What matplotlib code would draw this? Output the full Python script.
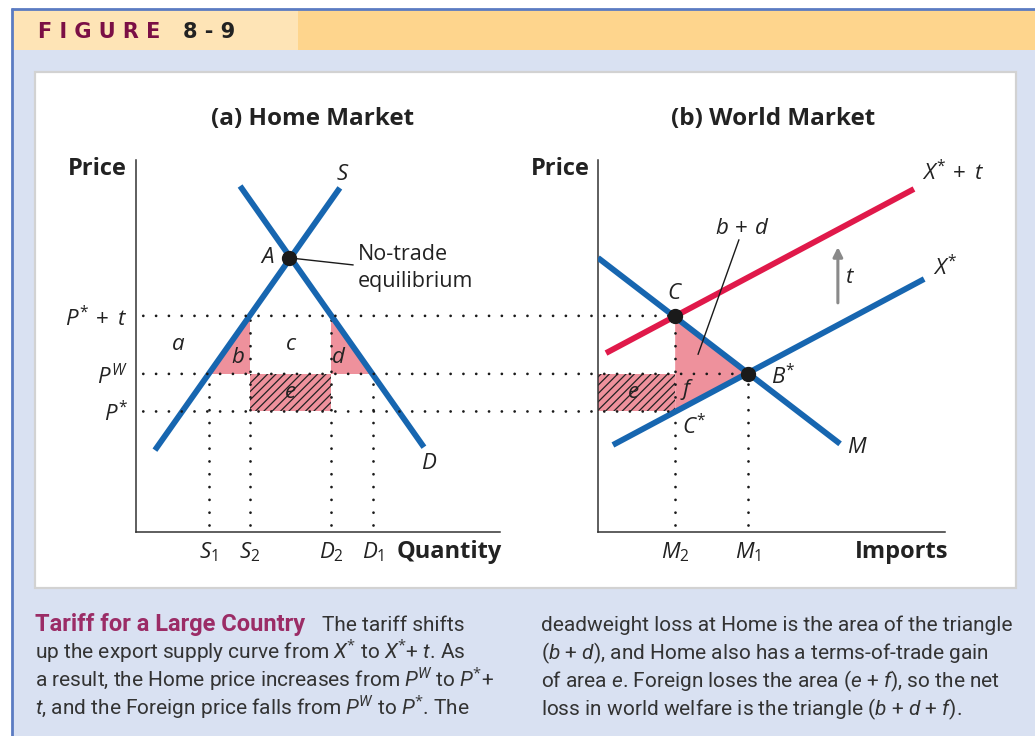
import matplotlib
matplotlib.use("Agg")
import matplotlib.pyplot as plt
from matplotlib import font_manager
from matplotlib.patches import Rectangle, Polygon, ConnectionPatch

# ---------------- data ----------------
# Panel (a) Home Market
home_prices = [3.24, 4.25, 5.81]                 # P*, P^W, P* + t
home_price_labels = [r"$P^{*}$", r"$P^{W}$", r"$P^{*}\,+\;t$"]
home_quantities = [2.0, 3.13, 5.36, 6.51]        # S1, S2, D2, D1
home_quantity_labels = [r"$S_1$", r"$S_2$", r"$D_2$", r"$D_1$"]
supply_q = [0.52, 5.60]
supply_p = [2.20, 9.25]
demand_q = [2.86, 7.91]
demand_p = [9.30, 2.28]
notrade_q, notrade_p = 4.20, 7.37

# Panel (b) World Market
import_quantities = [2.12, 4.12]                 # M2, M1
import_labels = [r"$M_2$", r"$M_1$"]
m_curve_x = [0.0, 6.65]
m_curve_p = [7.37, 2.37]
xstar_x = [0.41, 8.96]
xstar_p = [2.34, 6.80]
xstar_t_x = [0.22, 8.68]
xstar_t_p = [4.81, 9.22]

caption_left = [
    r"up the export supply curve from $\mathcal{X}^{*}$ to $\mathcal{X}^{*}$+ $\mathcal{t}$. As",
    r"a result, the Home price increases from $\mathcal{P}^{\mathcal{W}}$ to $\mathcal{P}^{*}$+",
    r"$\mathcal{t}$, and the Foreign price falls from $\mathcal{P}^{\mathcal{W}}$ to $\mathcal{P}^{*}$. The",
]
caption_right = [
    "deadweight loss at Home is the area of the triangle",
    r"($\mathcal{b}$ + $\mathcal{d}$), and Home also has a terms-of-trade gain",
    r"of area $\mathcal{e}$. Foreign loses the area ($\mathcal{e}$ + $\mathcal{f}$), so the net",
    r"loss in world welfare is the triangle ($\mathcal{b}$ + $\mathcal{d}$ + $\mathcal{f}$).",
]

# ---------------- style ----------------
names = {f.name for f in font_manager.fontManager.ttflist}
NARROW = "Liberation Sans Narrow" if "Liberation Sans Narrow" in names else "Roboto"
plt.rcParams.update({
    "font.family": ["Open Sans", "DejaVu Sans"],
    "mathtext.fontset": "custom",
    "mathtext.rm": "Open Sans",
    "mathtext.it": "Open Sans:italic",
    "mathtext.bf": "Open Sans:bold",
    "mathtext.cal": NARROW + ":italic",
    "mathtext.sf": NARROW,
    "hatch.linewidth": 0.9,
})
CAP_SIZE = 15 if NARROW == "Roboto" else 16

BLUE = "#1766B0"
RED = "#E0194A"
PINK = "#EE919C"
INK = "#1a1a1a"
DOT = (0, (0.01, 4.6))
DOT_LW = 2.0

W, H = 1035, 736
fig = plt.figure(figsize=(W / 100, H / 100), dpi=100, facecolor="white")

# background / frame in pixel coordinates
bg = fig.add_axes([0, 0, 1, 1])
bg.set_xlim(0, W)
bg.set_ylim(H, 0)
bg.axis("off")
bg.add_patch(Rectangle((12, 9), W - 12, H - 9, facecolor="#D9E1F2", edgecolor="none"))
bg.add_patch(Rectangle((12, 9), 286, 41, facecolor="#FEE4B6", edgecolor="none"))
bg.add_patch(Rectangle((298, 9), W - 298, 41, facecolor="#FED58D", edgecolor="none"))
bg.plot([12, 12], [8, H], color="#5B7BC2", lw=2.0, solid_capstyle="butt")
bg.plot([11, W], [9, 9], color="#5B7BC2", lw=2.0, solid_capstyle="butt")
bg.add_patch(Rectangle((35, 72), 981, 516, facecolor="white", edgecolor="#D2D2D2", lw=1.6))
bg.text(38, 38, "F I G U R E", fontfamily="DejaVu Sans", fontweight="bold", fontsize=15,
        color="#7B0F45", va="baseline", ha="left")
bg.text(183, 38, "8 - 9", fontfamily="DejaVu Sans", fontweight="bold", fontsize=15,
        color="#222222", va="baseline", ha="left")

# titles and axis names
bg.text(313, 125, "(a) Home Market", fontsize=17.5, fontweight="bold", ha="center", va="baseline", color="#222")
bg.text(773, 125, "(b) World Market", fontsize=17.5, fontweight="bold", ha="center", va="baseline", color="#222")
bg.text(68, 175, "Price", fontsize=17, fontweight="bold", ha="left", va="baseline", color="#222")
bg.text(531, 175, "Price", fontsize=17, fontweight="bold", ha="left", va="baseline", color="#222")
bg.text(397, 558, "Quantity", fontsize=17, fontweight="bold", ha="left", va="baseline", color="#222")
bg.text(855, 558, "Imports", fontsize=17, fontweight="bold", ha="left", va="baseline", color="#222")

# caption
bg.text(35, 631, "Tariff for a Large Country", fontfamily=NARROW, fontweight="bold", fontsize=CAP_SIZE + 2,
        color="#9B2C66", va="baseline", ha="left")
bg.text(322, 631, "The tariff shifts", fontfamily=NARROW, fontsize=CAP_SIZE, color="#333", va="baseline")
for i, line in enumerate(caption_left):
    bg.text(35, 659 + 28 * i, line, fontfamily=NARROW, fontsize=CAP_SIZE, color="#333", va="baseline")
for i, line in enumerate(caption_right):
    bg.text(541, 631 + 28 * i, line, fontfamily=NARROW, fontsize=CAP_SIZE, color="#333", va="baseline")


def style_axes(ax):
    ax.patch.set_visible(False)
    for s in ["top", "right"]:
        ax.spines[s].set_visible(False)
    for s in ["left", "bottom"]:
        ax.spines[s].set_color("#333333")
        ax.spines[s].set_linewidth(1.1)
    ax.tick_params(length=0, labelsize=16, colors="#222")
    ax.tick_params(axis="x", pad=6)
    ax.tick_params(axis="y", pad=6)


# ---------------- panel (a) ----------------
axL = fig.add_axes([136 / W, 1 - 532 / H, 364 / W, 372 / H])
axL.set_xlim(0, 10)
axL.set_ylim(0, 10)
style_axes(axL)
axL.set_xticks(home_quantities, home_quantity_labels)
axL.set_yticks(home_prices, home_price_labels)

p_star, p_w, p_star_t = home_prices
s1, s2, d2, d1 = home_quantities

axL.add_patch(Polygon([(s1, p_w), (s2, p_w), (s2, p_star_t)], closed=True, facecolor=PINK, edgecolor="none", zorder=1))
axL.add_patch(Polygon([(d2, p_star_t), (d2, p_w), (d1, p_w)], closed=True, facecolor=PINK, edgecolor="none", zorder=1))
axL.add_patch(Rectangle((s2, p_star), d2 - s2, p_w - p_star, facecolor=PINK, edgecolor="none", zorder=1))
axL.add_patch(Rectangle((s2, p_star), d2 - s2, p_w - p_star, facecolor="none", edgecolor="#222",
                        hatch="////", lw=0, zorder=1.5))

for q, top in zip(home_quantities, [p_w, p_star_t, p_star_t, p_w]):
    axL.plot([q, q], [0.2, top], color=INK, lw=DOT_LW, linestyle=DOT, dash_capstyle="round", zorder=2)

axL.plot(supply_q, supply_p, color=BLUE, lw=4.2, solid_capstyle="butt", zorder=3)
axL.plot(demand_q, demand_p, color=BLUE, lw=4.2, solid_capstyle="butt", zorder=3)
axL.plot([notrade_q, 5.96], [notrade_p, 7.18], color=INK, lw=1.0, zorder=3)
axL.plot([notrade_q], [notrade_p], "o", color=INK, ms=10, zorder=5)

lab = dict(fontsize=16, color="#222", ha="center", va="center")
axL.text(5.69, 9.60, "$S$", **lab)
axL.text(8.05, 1.83, "$D$", **lab)
axL.text(3.60, 7.39, "$A$", **lab)
axL.text(6.10, 7.32, "No-trade", fontsize=15.5, color="#222", ha="left", va="baseline")
axL.text(6.10, 6.59, "equilibrium", fontsize=15.5, color="#222", ha="left", va="baseline")
axL.text(1.15, 5.03, "$a$", **lab)
axL.text(2.80, 4.68, "$b$", **lab)
axL.text(4.26, 5.03, "$c$", **lab)
axL.text(5.58, 4.68, "$d$", **lab)
axL.text(4.23, 3.74, "$e$", **lab)

# ---------------- panel (b) ----------------
axR = fig.add_axes([598 / W, 1 - 532 / H, 347 / W, 372 / H])
axR.set_xlim(0, 347 / 36.4)
axR.set_ylim(0, 10)
style_axes(axR)
axR.set_xticks(import_quantities, import_labels)
axR.set_yticks([])

m2, m1 = import_quantities
axR.add_patch(Polygon([(m2, p_star_t), (m1, p_w), (m2, p_star)], closed=True, facecolor=PINK, edgecolor="none", zorder=1))
axR.add_patch(Rectangle((0, p_star), m2, p_w - p_star, facecolor=PINK, edgecolor="none", zorder=1))
axR.add_patch(Rectangle((0, p_star), m2, p_w - p_star, facecolor="none", edgecolor="#222",
                        hatch="////", lw=0, zorder=1.5))

for q, top in zip(import_quantities, [p_star_t, p_w]):
    axR.plot([q, q], [0.2, top], color=INK, lw=DOT_LW, linestyle=DOT, dash_capstyle="round", zorder=2)

# horizontal dotted price lines spanning both panels
for p, xend in zip(home_prices, [m2, m1, m2]):
    con = ConnectionPatch(xyA=(0.2, p), coordsA=axL.transData, xyB=(xend, p), coordsB=axR.transData,
                          color=INK, lw=DOT_LW, linestyle=DOT, capstyle="round", zorder=2)
    fig.add_artist(con)

axR.plot(m_curve_x, m_curve_p, color=BLUE, lw=4.2, solid_capstyle="butt", zorder=3)
axR.plot(xstar_x, xstar_p, color=BLUE, lw=4.2, solid_capstyle="butt", zorder=3)
axR.plot(xstar_t_x, xstar_t_p, color=RED, lw=4.2, solid_capstyle="butt", zorder=3)
axR.plot([3.87, 2.75], [7.85, 4.78], color=INK, lw=1.0, zorder=3)
axR.plot([m2, m1], [p_star_t, p_w], "o", color=INK, ms=10, zorder=5)
axR.annotate("", xy=(6.59, 7.66), xytext=(6.59, 6.16),
             arrowprops=dict(arrowstyle="-|>", color="#8a8a8a", lw=2.2, mutation_scale=14,
                             shrinkA=0, shrinkB=0))

axR.text(2.12, 6.42, "$C$", **lab)
axR.text(5.08, 4.17, "$B^{*}$", **lab)
axR.text(2.64, 2.82, "$C^{*}$", **lab)
axR.text(7.12, 2.26, "$M$", **lab)
axR.text(9.53, 7.10, "$X^{*}$", **lab)
axR.text(9.75, 9.65, "$X^{*}\\,+\\;t$", **lab)
axR.text(6.92, 6.83, "$t$", **lab)
axR.text(3.96, 8.17, "$b\\,+\\,d$", **lab)
axR.text(0.96, 3.76, "$e$", **lab)
axR.text(2.45, 3.82, "$f$", **lab)

fig.savefig("out.png", dpi=100, facecolor="white")
